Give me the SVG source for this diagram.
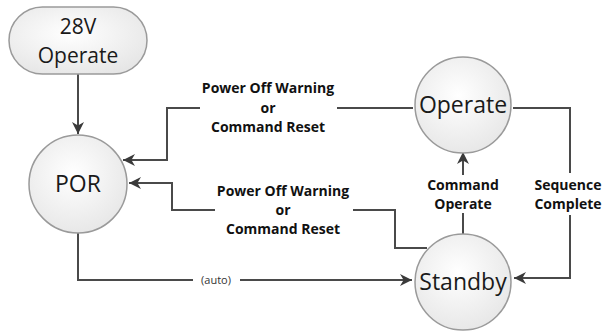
<svg xmlns="http://www.w3.org/2000/svg" width="609" height="331" viewBox="0 0 609 331">
<defs>
<radialGradient id="g" cx="0.45" cy="0.4" r="0.65">
<stop offset="0" stop-color="#ffffff"/>
<stop offset="1" stop-color="#e6e6e6"/>
</radialGradient>
<marker id="ah" viewBox="0 0 10 10" refX="10" refY="5" markerWidth="6" markerHeight="6" orient="auto" markerUnits="strokeWidth">
<path d="M0,0 L10,5 L0,10 L3,5 Z" fill="#3a3a3a"/>
</marker>
<style>
.n{fill:url(#g);stroke:#9a9a9a;stroke-width:1.5}
.t{font-family:"Open Sans","Liberation Sans",sans-serif;font-size:23px;fill:#1a1a1a;text-anchor:middle}
.p{font-family:"Open Sans","Liberation Sans",sans-serif;font-size:21px;fill:#1a1a1a;text-anchor:middle}
.l{font-family:"Open Sans","Liberation Sans",sans-serif;font-size:14px;font-weight:bold;fill:#111;text-anchor:middle}
.s{font-family:"Open Sans","Liberation Sans",sans-serif;font-size:11px;fill:#333;text-anchor:middle}
.c{fill:none;stroke:#4a4a4a;stroke-width:2}
</style>
</defs>
<rect width="609" height="331" fill="#ffffff"/>
<g id="connectors">
<path class="c" d="M78,74 V134" marker-end="url(#ah)"/>
<path class="c" d="M413,108 H337 M200,108 H167 V160 H123" marker-end="url(#ah)"/>
<path class="c" d="M427,248 H395 V210 H353 M215,210 H172 V183 H129" marker-end="url(#ah)"/>
<path class="c" d="M78,232 V280 H193 M240,280 H412" marker-end="url(#ah)"/>
<path class="c" d="M463,234 V213 M463,175 V152" marker-end="url(#ah)"/>
<path class="c" d="M513,108 H570 V173 M570,215 V278 H514" marker-end="url(#ah)"/>
<g>
<text class="l" x="268" y="93">Power Off Warning</text>
<text class="l" x="268" y="113">or</text>
<text class="l" x="268" y="132">Command Reset</text>
<text class="l" x="283" y="196">Power Off Warning</text>
<text class="l" x="283" y="215">or</text>
<text class="l" x="283" y="234">Command Reset</text>
<text class="s" x="216" y="284">(auto)</text>
<text class="l" x="463" y="190">Command</text>
<text class="l" x="463" y="209">Operate</text>
<text class="l" x="568" y="190">Sequence</text>
<text class="l" x="568" y="209">Complete</text>
</g>
</g>
<g id="n28v">
<rect class="n" x="9" y="7" width="138" height="67" rx="33.5" ry="33.5"/>
<text class="p" x="78" y="34">28V</text>
<text class="p" x="78" y="63">Operate</text>
</g>
<g id="por">
<circle class="n" cx="78" cy="184" r="49"/>
<text class="t" x="78" y="192">POR</text>
</g>
<g id="operate">
<circle class="n" cx="463" cy="105" r="48"/>
<text class="t" x="463" y="113">Operate</text>
</g>
<g id="standby">
<circle class="n" cx="463" cy="282" r="48"/>
<text class="t" x="463" y="290">Standby</text>
</g>
</svg>
